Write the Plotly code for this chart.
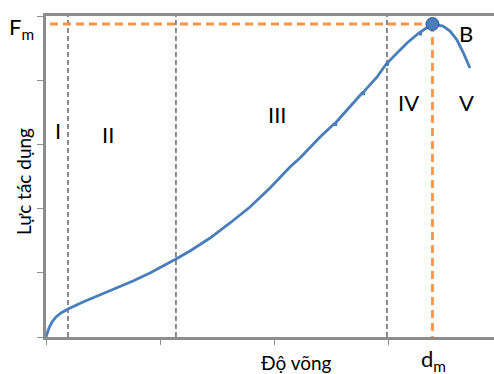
import plotly.graph_objects as go

# Curve: deflection (x) vs applied force (y)
deflection = [0.0, 0.009, 0.026, 0.053, 0.088, 0.132, 0.193, 0.325, 0.474, 0.623, 0.763, 0.912,
              1.044, 1.140, 1.263, 1.439, 1.614, 1.789, 1.965, 2.140, 2.228, 2.404, 2.535, 2.540,
              2.545, 2.667, 2.781, 2.785, 2.790, 2.904, 2.991, 2.995, 3.000, 3.079, 3.167, 3.281,
              3.285, 3.290, 3.342, 3.390, 3.482, 3.544, 3.605, 3.658, 3.719]
force = [0.0, 0.062, 0.140, 0.234, 0.312, 0.374, 0.436, 0.545, 0.654, 0.763, 0.872, 0.997,
         1.121, 1.215, 1.340, 1.542, 1.776, 2.025, 2.321, 2.648, 2.788, 3.115, 3.333, 3.290,
         3.345, 3.583, 3.816, 3.770, 3.825, 4.050, 4.268, 4.225, 4.278, 4.424, 4.579, 4.751,
         4.700, 4.758, 4.813, 4.875, 4.844, 4.766, 4.626, 4.439, 4.190]

# Stage boundaries (dashed black verticals)
stage_bounds = [0.193, 1.140, 2.991]
# Max force point B
peak_x = 3.390
peak_y = 4.875
fm_start_x = 0.035

stage_labels = ["I", "II", "III", "IV", "V"]
stage_label_x = [0.105, 0.544, 2.03, 3.18, 3.69]
stage_label_y = [3.22, 3.15, 3.46, 3.66, 3.66]

y_ticks = [0, 1, 2, 3, 4, 5]
x_ticks = [0, 1, 2, 3]

blue = "#4a7ebb"
orange = "#f79646"
font = "Lato"

fig = go.Figure()

for xb in stage_bounds:
    fig.add_trace(go.Scatter(x=[xb, xb], y=[0, 5], mode="lines",
                             line=dict(color="#404040", width=1.2, dash="5px,3px"),
                             hoverinfo="skip", showlegend=False))

fig.add_trace(go.Scatter(x=[fm_start_x, peak_x], y=[peak_y, peak_y], mode="lines",
                         line=dict(color=orange, width=2.8, dash="8px,5px"), showlegend=False))
fig.add_trace(go.Scatter(x=[peak_x, peak_x], y=[peak_y, 0], mode="lines",
                         line=dict(color=orange, width=2.8, dash="8px,5px"), showlegend=False))

fig.add_trace(go.Scatter(x=deflection, y=force, mode="lines",
                         line=dict(color=blue, width=2.8),
                         showlegend=False))

fig.add_trace(go.Scatter(x=[peak_x], y=[peak_y], mode="markers",
                         marker=dict(size=13, color=blue, line=dict(color="#2f5597", width=1)),
                         showlegend=False))

for t, xx, yy in zip(stage_labels, stage_label_x, stage_label_y):
    fig.add_annotation(x=xx, y=yy, text=t, showarrow=False, xanchor="center", yanchor="middle",
                       font=dict(family=font, size=22, color="black"))

fig.add_annotation(x=3.68, y=4.72, text="B", showarrow=False, xanchor="center", yanchor="middle",
                   font=dict(family=font, size=22, color="black"))
fig.add_annotation(xref="paper", yref="paper", x=-0.0536, y=0.963, text="F<sub>m</sub>",
                   xanchor="center", yanchor="middle",
                   showarrow=False, font=dict(family=font, size=22, color="black"))
fig.add_annotation(xref="paper", yref="paper", x=0.866, y=-0.0717, text="d<sub>m</sub>",
                   xanchor="center", yanchor="middle",
                   showarrow=False, font=dict(family=font, size=22, color="black"))
fig.add_annotation(xref="paper", yref="paper", x=0.560, y=-0.0779, text="Độ võng",
                   xanchor="center", yanchor="middle",
                   showarrow=False, font=dict(family=font, size=19, color="black"))
fig.add_annotation(xref="paper", yref="paper", x=-0.049, y=0.483, text="Lực tác dụng",
                   xanchor="center", yanchor="middle",
                   showarrow=False, textangle=-90, font=dict(family=font, size=19, color="black"))

fig.update_layout(
    width=494, height=374,
    margin=dict(l=46, r=0, t=16, b=37),
    paper_bgcolor="white", plot_bgcolor="white",
    xaxis=dict(range=[0, 448 / 114], tickvals=x_ticks, showticklabels=False,
               ticks="outside", ticklen=5, tickcolor="#8c8c8c", tickwidth=1,
               showgrid=False, zeroline=False, showline=True, linecolor="#8c8c8c",
               linewidth=2.5, mirror=True),
    yaxis=dict(range=[0, 5], tickvals=y_ticks, showticklabels=False,
               ticks="outside", ticklen=6, tickcolor="#8c8c8c", tickwidth=1,
               showgrid=False, zeroline=False, showline=True, linecolor="#8c8c8c",
               linewidth=2.5),
)

fig.write_html("out.html", config={"displayModeBar": False},
               post_script="document.body.style.margin='0px';")
